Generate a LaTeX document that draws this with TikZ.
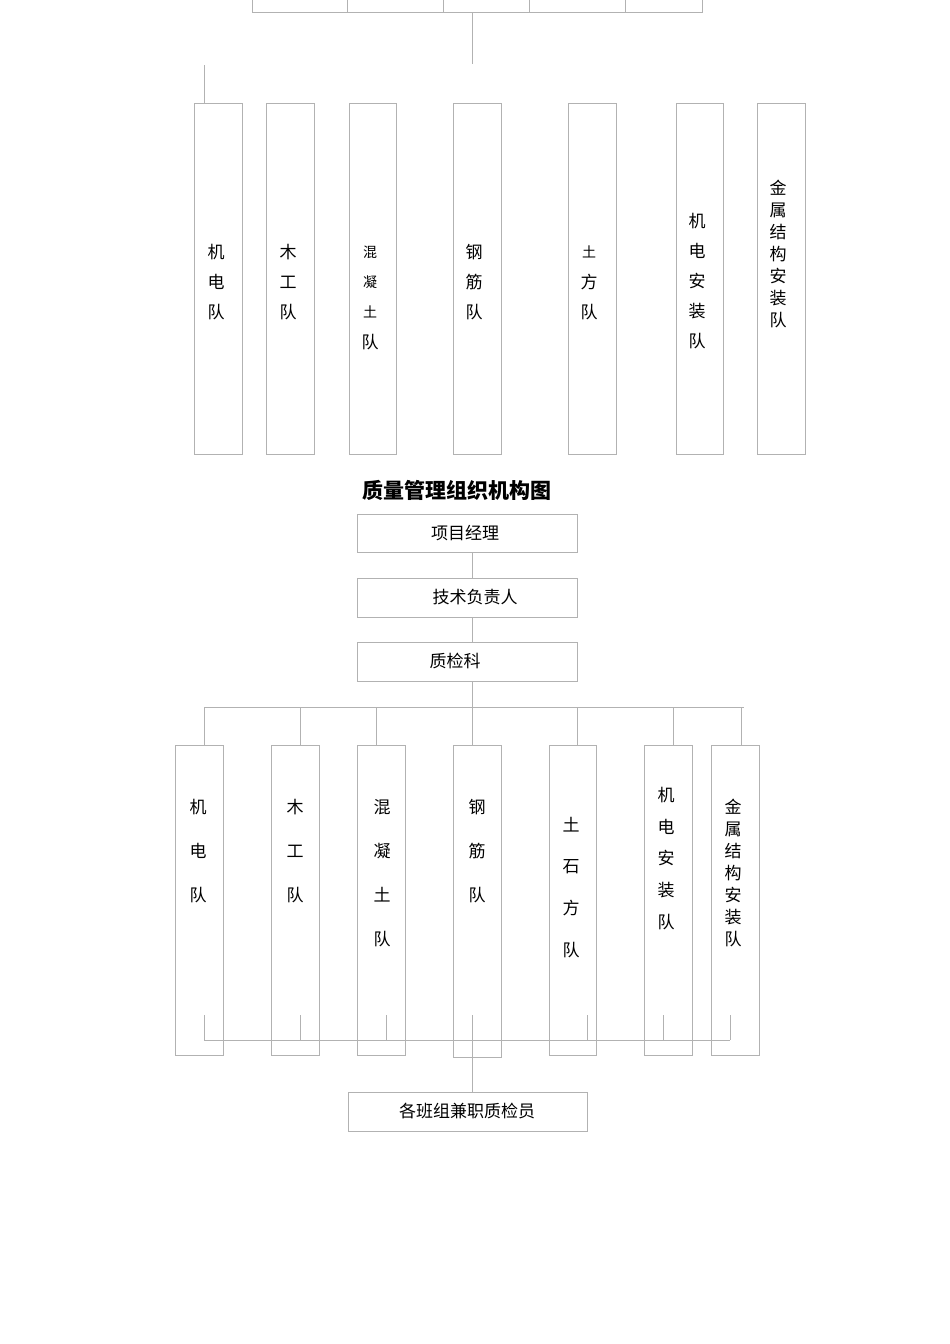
\documentclass[tikz,border=0pt]{standalone}
\usepackage{fontspec}
\newfontfamily\cjk{Noto Sans CJK SC}
\begin{document}
\begin{tikzpicture}[x=1pt,y=-1pt,
  ln/.style={draw=black!30,line width=0.8pt},
  bx/.style={draw=black!30,line width=0.8pt},
  t/.style={font=\cjk\fontsize{17}{17}\selectfont,inner sep=0pt},
  ts/.style={font=\cjk\fontsize{14}{14}\selectfont,inner sep=0pt}]
\useasboundingbox (0,0) rectangle (950,1344);
% top table fragment
\draw[ln] (252,0) -- (252,12) -- (702,12) -- (702,0);
\foreach \x in {347,443,529,625} \draw[ln] (\x,0) -- (\x,12);
\coordinate (tb) at (472,12); \coordinate (te) at (472,64);
\draw[ln] (tb) -- (te);
\coordinate (lb) at (204,65);
% top boxes
\foreach \n/\a/\b in {A1/194/242,A2/266/314,A3/349/396,A4/453/501,A5/568/616,A6/676/723,A7/757/805}
  \draw[bx] (\a,103) rectangle (\b,454) coordinate (\n);
\draw[ln] (lb) -- (204,103);
\node[t] (a11) at (216,252) {机}; \node[t] (a12) at (216,282) {电}; \node[t] (a13) at (216,312) {队};
\node[t] (a21) at (288,252) {木}; \node[t] (a22) at (288,282) {工}; \node[t] (a23) at (288,312) {队};
\node[ts] (a31) at (370,252) {混}; \node[ts] (a32) at (370,282) {凝}; \node[ts] (a33) at (370,312) {土}; \node[t] (a34) at (370,342) {队};
\node[t] (a41) at (474,252) {钢}; \node[t] (a42) at (474,282) {筋}; \node[t] (a43) at (474,312) {队};
\node[ts] (a51) at (589,252) {土}; \node[t] (a52) at (589,282) {方}; \node[t] (a53) at (589,312) {队};
\foreach \c [count=\i] in {机,电,安,装,队} \node[t] (a6\i) at (697,191+30*\i) {\c};
\foreach \c [count=\i] in {金,属,结,构,安,装,队} \node[t] (a7\i) at (778,166+22*\i) {\c};
% title
\node[font=\cjk\bfseries\fontsize{21}{21}\selectfont,inner sep=0pt] (title) at (457,490) {质量管理组织机构图};
\node[bx,minimum width=220pt,minimum height=38pt] (pm) at (467,533) {};
\node[t] at (465,533) {项目经理};
\node[bx,minimum width=220pt,minimum height=39pt] (tech) at (467,597.5) {};
\node[t] at (475,597) {技术负责人};
\node[bx,minimum width=220pt,minimum height=39pt] (qc) at (467,661.5) {};
\node[t] at (455,661) {质检科};
\draw[ln] (pm.south -| 472,0) -- (tech.north -| 472,0);
\draw[ln] (tech.south -| 472,0) -- (qc.north -| 472,0);
\draw[ln] (qc.south -| 472,0) -- (472,707);
\draw[ln] (204,707) -- (744,707);
\foreach \x in {204,300,376,472,577,673,741} \draw[ln] (\x,707) -- (\x,745);
\foreach \n/\a/\b in {B1/175/223,B2/271/319,B3/357/405,B5/549/596,B6/644/692,B7/711/759}
  \draw[bx] (\a,745) rectangle (\b,1055) coordinate (\n);
\draw[bx] (453,745) rectangle (501,1057) coordinate (B4);
\foreach \c [count=\i] in {机,电,队} \node[t] at (198,763+44*\i) {\c};
\foreach \c [count=\i] in {木,工,队} \node[t] at (295,763+44*\i) {\c};
\foreach \c [count=\i] in {混,凝,土,队} \node[t] at (382,763+44*\i) {\c};
\foreach \c [count=\i] in {钢,筋,队} \node[t] at (477,763+44*\i) {\c};
\foreach \c [count=\i] in {土,石,方,队} \node[t] at (571,783+41.7*\i) {\c};
\foreach \c [count=\i] in {机,电,安,装,队} \node[t] at (666,763+31.8*\i) {\c};
\foreach \c [count=\i] in {金,属,结,构,安,装,队} \node[t] at (733,785+22*\i) {\c};
\foreach \x in {204,300,386,472,587,663,730} \draw[ln] (\x,1015) -- (\x,1040);
\draw[ln] (204,1040) -- (730,1040);
\node[bx,minimum width=239pt,minimum height=39pt] (crew) at (467.5,1111.5) {};
\node[t] at (467,1111) {各班组兼职质检员};
\draw[ln] (472,1040) -- (crew.north -| 472,0);
\end{tikzpicture}
\end{document}
